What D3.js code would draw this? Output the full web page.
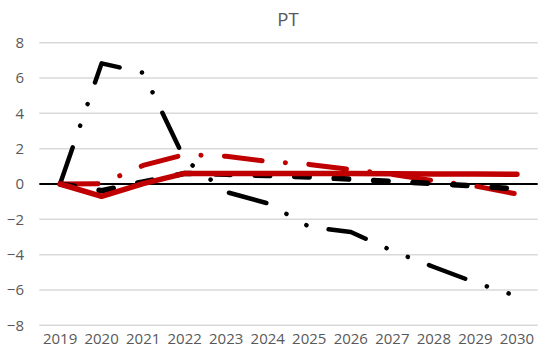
<!DOCTYPE html>
<html>
<head>
<meta charset="utf-8">
<script src="https://cdn.jsdelivr.net/npm/d3@7"></script>
<style>
  body { margin:0; background:#fff; }
  svg { font-family:"Open Sans", "Noto Sans", sans-serif; }
</style>
</head>
<body>
<script>
var years = ["2019","2020","2021","2022","2023","2024","2025","2026","2027","2028","2029","2030"];
var yTicks = [-8,-6,-4,-2,0,2,4,6,8];

var blackDashDot = [0, 6.83, 6.3, 1.4, -0.45, -1.1, -2.42, -2.72, -3.78, -4.7, -5.58, -6.35];
var redDashDot   = [0, 0.02, 1.05, 1.67, 1.57, 1.28, 1.11, 0.82, 0.54, 0.18, -0.12, -0.57];
var blackDash    = [0, -0.38, 0.12, 0.6, 0.55, 0.48, 0.4, 0.27, 0.15, 0.03, -0.12, -0.28];
var redSolid     = [0, -0.7, 0.02, 0.6, 0.6, 0.6, 0.6, 0.6, 0.58, 0.57, 0.56, 0.55];

var width = 546, height = 355;

var x = d3.scaleBand()
            .domain(years)
            .range([39.3,537.7]);

var y = d3.scaleLinear()
            .domain([-8,8])
            .range([325.3,42.7]);

var svg = d3.select("body").append("svg").attr("width",width).attr("height",height);

//title
svg.append("text")
    .attr("x",288)
    .attr("y",26)
    .attr("text-anchor","middle")
    .attr("fill","#595959")
    .attr("font-size","18.5")
    .text("PT");

//gridlines, the 0 line is drawn later in black
svg.selectAll("line.grid")
    .data(yTicks.filter(function(d){ return d !== 0; }))
    .enter().append("line")
      .attr("class","grid")
      .attr("x1",x.range()[0])
      .attr("x2",x.range()[1])
      .attr("y1",function(d){ return y(d); })
      .attr("y2",function(d){ return y(d); })
      .attr("stroke","#d9d9d9")
      .attr("stroke-width","1.5");

//y axis labels
var yAxis = d3.axisLeft(y).tickValues(yTicks).tickSize(0).tickPadding(0);
svg.append("g")
    .attr("transform","translate(24,0)")
    .call(yAxis)
    .call(function(g){ g.select(".domain").remove(); })
    .selectAll("text")
      .attr("fill","#595959")
      .attr("font-size","15")
      .attr("font-family","Open Sans");

//x axis labels
var xAxis = d3.axisBottom(x).tickSize(0).tickPadding(0);
svg.append("g")
    .attr("transform","translate(0,333)")
    .call(xAxis)
    .call(function(g){ g.select(".domain").remove(); })
    .selectAll("text")
      .attr("fill","#595959")
      .attr("font-size","15")
      .attr("font-family","Open Sans");

//zero line
svg.append("line")
    .attr("x1",x.range()[0])
    .attr("x2",x.range()[1])
    .attr("y1",y(0))
    .attr("y2",y(0))
    .attr("stroke","#000")
    .attr("stroke-width","2");

var line = d3.line()
    .x(function(d,i){ return x(years[i]) + x.bandwidth()/2; })
    .y(function(d){ return y(d); });

var series = [
  {values:blackDashDot, color:"#000000", width:4.5, dash:"38.7,22.9,0.1,22.8,0.1,22.7"},
  {values:redDashDot,   color:"#c00000", width:5,   dash:"38,23.3,0.1,23.4"},
  {values:blackDash,    color:"#000000", width:5.5, dash:"14.5,25"},
  {values:redSolid,     color:"#c00000", width:5.5, dash:null}
];

svg.selectAll("path.series")
    .data(series)
    .enter().append("path")
      .attr("class","series")
      .attr("d",function(d){ return line(d.values); })
      .attr("fill","none")
      .attr("stroke",function(d){ return d.color; })
      .attr("stroke-width",function(d){ return d.width; })
      .attr("stroke-dasharray",function(d){ return d.dash; })
      .attr("stroke-linecap","round")
      .attr("stroke-linejoin","round");
</script>
</body>
</html>
